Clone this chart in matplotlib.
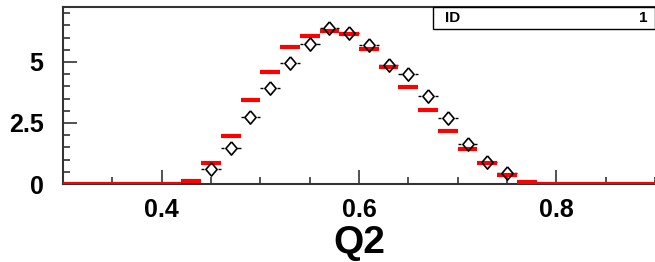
import matplotlib.pyplot as plt
from matplotlib.ticker import MultipleLocator
import numpy as np

plt.rcParams['font.family'] = ['Liberation Sans', 'DejaVu Sans']
plt.rcParams['font.weight'] = 'bold'

# binning of Q2
bin_edges = np.round(np.arange(0.30, 0.9001, 0.02), 2)

# simulation (red histogram)
mc_vals = [0, 0, 0, 0, 0, 0,
           0.14, 0.85, 1.98, 3.44, 4.60, 5.63, 6.07, 6.27, 6.13,
           5.55, 4.81, 3.96, 3.02, 2.18, 1.45, 0.85, 0.37, 0.08,
           0, 0, 0, 0, 0, 0]

# data points (bins 0.42 .. 0.78)
data_x = [0.43, 0.45, 0.47, 0.49, 0.51, 0.53, 0.55, 0.57, 0.59,
          0.61, 0.63, 0.65, 0.67, 0.69, 0.71, 0.73, 0.75, 0.77]
data_y = [0.05, 0.60, 1.46, 2.75, 3.92, 4.94, 5.74, 6.38, 6.17,
          5.70, 4.88, 4.51, 3.62, 2.69, 1.64, 0.89, 0.46, 0.03]

fig = plt.figure(figsize=(6.55, 2.62), dpi=100)
ax = fig.add_axes([63/655, 78/262, 592/655, 177/262])

ax.hlines(mc_vals, bin_edges[:-1], bin_edges[1:], color='red', lw=3, zorder=3)

dx = np.array(data_x)
dy = np.array(data_y)
half = 0.01
gap = 0.0068
show = dy > 0.2
# x error bars with a gap around the marker
ax.hlines(dy[show], dx[show] - half, dx[show] - gap, color='black', lw=1, zorder=2)
ax.hlines(dy[show], dx[show] + gap, dx[show] + half, color='black', lw=1, zorder=2)
ax.hlines(dy[~show], dx[~show] - half, dx[~show] + half, color='black', lw=1.5, zorder=2)

diamond = [(0, 1), (0.85, 0), (0, -1), (-0.85, 0), (0, 1)]
ax.plot(dx[show], dy[show], linestyle='none', marker=diamond, markersize=9.5,
        markerfacecolor='none', markeredgecolor='black', markeredgewidth=1.2, zorder=4)

ax.set_xlim(0.3, 0.9)
ax.set_ylim(0, 7.25)

ax.xaxis.set_major_locator(MultipleLocator(0.2))
ax.xaxis.set_minor_locator(MultipleLocator(0.05))
ax.yaxis.set_major_locator(MultipleLocator(2.5))
ax.yaxis.set_minor_locator(MultipleLocator(0.5))
ax.xaxis.set_major_formatter(lambda v, p: f'{v:g}')
ax.yaxis.set_major_formatter(lambda v, p: f'{v:g}')

ax.tick_params(which='both', direction='in', color='#333333', width=1.2,
               top=False, right=False, labelsize=18)
ax.tick_params(which='major', length=10)
ax.tick_params(which='minor', length=5)
ax.tick_params(axis='y', pad=14)
ax.tick_params(axis='x', pad=10)

for s in ['left', 'top', 'bottom']:
    ax.spines[s].set_color('#333333')
    ax.spines[s].set_linewidth(1.5)
ax.spines['right'].set_visible(False)

ax.set_xlabel('Q2', fontsize=28, fontweight='bold', labelpad=2)

# stats box
box = plt.Rectangle((433/655, 233/262), 222/655, 22/262, transform=fig.transFigure,
                    facecolor='white', edgecolor='black', lw=1, zorder=5)
fig.patches.append(box)
fig.text(445/655, 244/262, 'ID', fontsize=11, fontweight='bold', va='center', ha='left', zorder=6)
fig.text(648/655, 244/262, '1', fontsize=11, fontweight='bold', va='center', ha='right', zorder=6)

fig.savefig('out.png', dpi=100)
